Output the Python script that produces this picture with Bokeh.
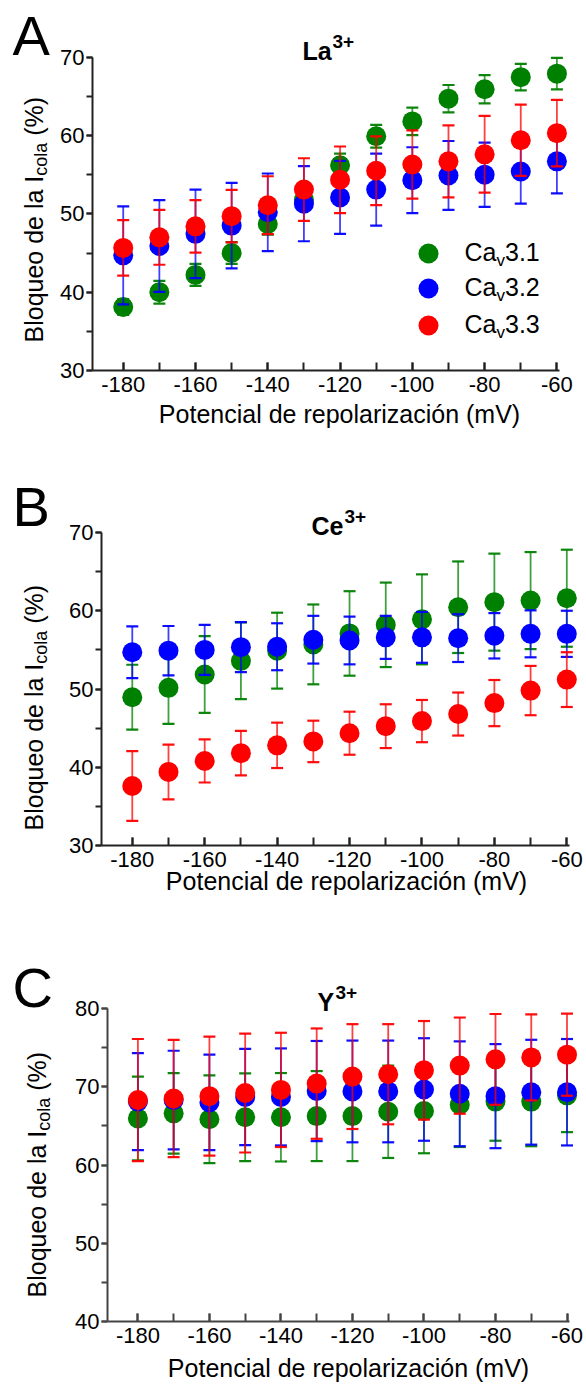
from bokeh.plotting import figure
from bokeh.layouts import column
from bokeh.models import Range1d, FixedTicker, Label, Legend, LegendItem, ColumnDataSource
from bokeh.embed import file_html
from bokeh.resources import INLINE

# ---------------------------------------------------------------- data
voltage_mv = [-180, -170, -160, -150, -140, -130, -120, -110, -100, -90, -80, -70, -60]
x_tick_labels = [-180, -160, -140, -120, -100, -80, -60]

channels = ["3.1", "3.2", "3.3"]

# La3+ block (%), mean and SEM
la_cav31 = [38.1, 40.0, 42.2, 45.0, 48.7, 51.8, 56.2, 59.9, 61.8, 64.7, 65.9, 67.45, 67.9]
la_cav31_sem = [1.0, 1.45, 1.4, 1.4, 1.35, 1.3, 1.5, 1.45, 1.75, 1.75, 1.8, 1.7, 2.0]
la_cav32 = [44.7, 45.9, 47.45, 48.5, 50.2, 51.3, 52.1, 53.1, 54.3, 54.9, 55.0, 55.4, 56.7]
la_cav32_sem = [6.25, 5.85, 5.65, 5.45, 4.95, 4.8, 4.65, 4.6, 4.2, 4.4, 4.1, 4.1, 4.1]
la_cav33 = [45.65, 47.0, 48.4, 49.7, 51.1, 53.1, 54.35, 55.5, 56.3, 56.7, 57.6, 59.4, 60.3]
la_cav33_sem = [3.55, 3.5, 3.35, 3.35, 3.7, 4.0, 4.25, 4.4, 4.35, 4.6, 4.9, 4.55, 4.25]

# Ce3+ block (%)
ce_cav31 = [48.95, 50.15, 51.85, 53.6, 54.9, 55.7, 57.1, 58.2, 58.9, 60.45, 61.1, 61.3, 61.6]
ce_cav31_sem = [4.15, 4.6, 4.9, 4.9, 4.85, 5.1, 5.4, 5.4, 5.75, 5.85, 6.2, 6.2, 6.2]
ce_cav32 = [54.7, 54.9, 55.0, 55.35, 55.4, 56.3, 56.2, 56.6, 56.6, 56.5, 56.8, 57.05, 57.05]
ce_cav32_sem = [3.3, 3.15, 3.2, 3.2, 3.0, 3.05, 3.05, 2.75, 3.25, 3.05, 2.9, 3.0, 2.95]
ce_cav33 = [37.6, 39.4, 40.8, 41.8, 42.8, 43.3, 44.35, 45.25, 45.9, 46.8, 48.2, 49.8, 51.2]
ce_cav33_sem = [4.45, 3.5, 2.75, 2.85, 2.9, 2.65, 2.75, 2.8, 2.7, 2.75, 2.95, 3.15, 3.5]

# Y3+ block (%)
y_cav31 = [65.95, 66.6, 65.85, 66.1, 66.1, 66.25, 66.25, 66.8, 66.9, 67.7, 68.1, 68.1, 68.9]
y_cav31_sem = [5.35, 5.15, 5.6, 5.6, 5.65, 5.75, 5.75, 5.9, 5.4, 5.4, 5.0, 5.7, 4.7]
y_cav32 = [68.1, 68.3, 68.0, 68.7, 68.7, 69.45, 69.4, 69.4, 69.65, 69.1, 68.8, 69.3, 69.3]
y_cav32_sem = [6.2, 6.3, 6.1, 6.15, 6.2, 6.4, 6.5, 6.5, 6.55, 6.7, 6.65, 6.7, 6.8]
y_cav33 = [68.3, 68.5, 68.8, 69.2, 69.6, 70.4, 71.3, 71.6, 72.1, 72.7, 73.5, 73.75, 74.1]
y_cav33_sem = [7.8, 7.5, 7.6, 7.6, 7.3, 7.05, 6.7, 6.4, 6.3, 6.15, 5.8, 5.5, 5.25]

# ---------------------------------------------------------------- style
FONT = "Liberation Sans"
COLORS = ["#008000", "#0000ff", "#ff0000"]
PAGE_W = 586
X_START, X_AXIS_END = -188.5, -59.3
X_LABEL = "Potencial de repolarización (mV)"
# Liberation Sans advance widths (em) used to chain the y-title pieces
W_MAIN, W_SUB, W_SPACE = 6.671, 1.834, 0.278
# distance (em) from the baseline to the vertical centre of the text box
MID = 0.35


def add_text(p, s, px, py, size, weight="normal", angle=0.0, align="left"):
    """Text whose baseline starts at pixel (px, py) from the figure's top-left."""
    if angle:
        px -= MID * size
    else:
        py -= MID * size
    p.add_layout(Label(x=px, y=p.height - py, x_units="screen", y_units="screen",
                       text=s, text_font=FONT, text_font_size=f"{size}px",
                       text_font_style=weight, text_color="black",
                       text_align=align, text_baseline="middle", angle=angle))


def add_series(p, y, sem, color):
    lo = [m - e for m, e in zip(y, sem)]
    hi = [m + e for m, e in zip(y, sem)]
    src = ColumnDataSource(dict(x=voltage_mv, y=y, lo=lo, hi=hi))
    p.segment(x0="x", y0="lo", x1="x", y1="hi", source=src,
              line_color=color, line_width=1.8, line_alpha=0.75)
    for end in ("lo", "hi"):
        p.scatter(x="x", y=end, source=src, marker="dash", size=12,
                  line_color=color, line_width=2.2, line_alpha=0.95)
    return p.scatter(x="x", y="y", source=src, size=20,
                     fill_color=color, line_color=None)


def make_panel(letter, ion, series, y_lo, y_hi, fig_h, ax_x0, x_scale, ax_y0, y_scale,
               axis_color, ylab_x, ylab_bottom, xlab_cx, xlab_base, letter_base):
    # the plotting frame fills the whole figure; axes sit at fixed data positions
    xs = X_START - ax_x0 / x_scale
    ys = y_lo - (fig_h - ax_y0) / y_scale
    p = figure(width=PAGE_W, height=fig_h,
               x_range=Range1d(xs, xs + PAGE_W / x_scale),
               y_range=Range1d(ys, ys + fig_h / y_scale),
               output_backend="svg", toolbar_location=None, min_border=0)
    p.outline_line_color = None
    p.grid.visible = False
    p.background_fill_color = "white"
    p.border_fill_color = "white"

    xa = p.xaxis[0]
    xa.fixed_location = y_lo
    xa.ticker = FixedTicker(ticks=x_tick_labels, minor_ticks=voltage_mv)
    xa.major_label_overrides = {v: str(v) for v in x_tick_labels}
    xa.bounds = (X_START, X_AXIS_END)
    xa.major_tick_in, xa.major_tick_out = 8, 0
    xa.minor_tick_in, xa.minor_tick_out = 8, 0
    xa.major_label_standoff = 6

    ya = p.yaxis[0]
    ya.fixed_location = X_START
    ya.ticker = FixedTicker(ticks=list(range(y_lo, y_hi + 1, 10)),
                            minor_ticks=list(range(y_lo, y_hi + 1, 5)))
    ya.bounds = (y_lo, y_hi)
    ya.major_tick_in, ya.major_tick_out = 0, 6
    ya.minor_tick_in, ya.minor_tick_out = 0, 6
    ya.major_label_standoff = 2

    for ax in (xa, ya):
        ax.axis_line_width = 2
        ax.major_tick_line_width = 2
        ax.minor_tick_line_width = 2
        ax.axis_line_color = axis_color
        ax.major_tick_line_color = axis_color
        ax.minor_tick_line_color = axis_color
        ax.major_label_text_font = FONT
        ax.major_label_text_font_size = "22px"
        ax.major_label_text_color = "black"

    renderers = [add_series(p, m, e, c) for (m, e), c in zip(series, COLORS)]

    # panel letter and ion title (with superscript charge)
    add_text(p, letter, 12, letter_base, 56)
    ion_w = {"La": 29, "Ce": 32, "Y": 17}[ion]
    add_text(p, ion, ax_x0 + 210, ax_y0 - 311, 25, "bold")
    add_text(p, "3+", ax_x0 + 211 + ion_w, ax_y0 - 322, 19, "bold")

    # x-axis title
    add_text(p, X_LABEL, xlab_cx, xlab_base, 25, align="center")

    # y-axis title, read bottom to top, with subscript "cola"
    main_fs, sub_fs = 25, 18
    w1, w2, ws = W_MAIN * main_fs, W_SUB * sub_fs, W_SPACE * main_fs
    add_text(p, "Bloqueo de la I", ylab_x, ylab_bottom, main_fs, angle=1.5708)
    add_text(p, "cola", ylab_x + 5, ylab_bottom - w1, sub_fs, angle=1.5708)
    add_text(p, "(%)", ylab_x, ylab_bottom - w1 - w2 - ws, main_fs, angle=1.5708)
    return p, renderers


pA, rA = make_panel("A", "La", [(la_cav31, la_cav31_sem), (la_cav32, la_cav32_sem),
                                (la_cav33, la_cav33_sem)],
                    30, 70, 460, 92, 3.614, 370, 7.833, "#222222",
                    42, 342, 339, 422, 55)
pB, _ = make_panel("B", "Ce", [(ce_cav31, ce_cav31_sem), (ce_cav32, ce_cav32_sem),
                              (ce_cav33, ce_cav33_sem)],
                   30, 70, 475, 101, 3.621, 385, 7.825, "#222222",
                   42, 370, 346, 429, 66)
pC, _ = make_panel("C", "Y", [(y_cav31, y_cav31_sem), (y_cav32, y_cav32_sem),
                             (y_cav33, y_cav33_sem)],
                   40, 80, 459, 107, 3.576, 386, 7.825, "#444444",
                   45, 362, 348, 441, 72)

# legend of panel A: one key per channel, label text set with a subscript
key_x = 428
key_y = [253, 288, 325]
for r, ky, ch in zip(rA, key_y, channels):
    leg = Legend(items=[LegendItem(label="", renderers=[r])],
                 location=(key_x - 25, pA.height - ky - 25), glyph_width=50, glyph_height=50,
                 padding=0, margin=0, spacing=0, label_standoff=0,
                 background_fill_alpha=0, border_line_alpha=0)
    pA.add_layout(leg)
    add_text(pA, "Ca", key_x + 36, ky + 7, 25)
    add_text(pA, "v", key_x + 68, ky + 13, 17)
    add_text(pA, ch, key_x + 76.5, ky + 7, 25)

layout = column(pA, pB, pC, spacing=0)
open("out.html", "w").write(file_html(layout, INLINE, title="Bloqueo de la Icola"))
